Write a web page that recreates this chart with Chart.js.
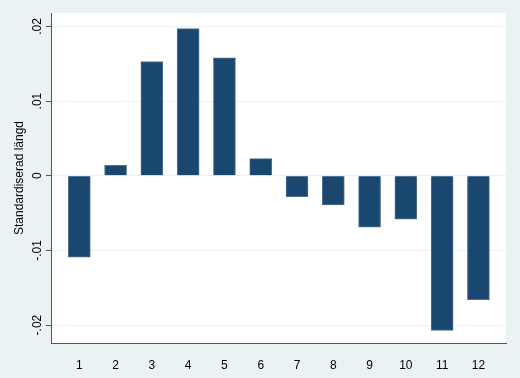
<!DOCTYPE html>
<html>
<head>
<meta charset="utf-8">
<script src="https://cdn.jsdelivr.net/npm/chart.js@4.4.1/dist/chart.umd.min.js"></script>
<style>
  html, body { margin: 0; padding: 0; background: #eaf2f3; }
  canvas { display: block; }
</style>
</head>
<body>
<canvas id="chart" width="520" height="378"></canvas>
<script>
// Bar chart, standardised length per category

const categories = ['1', '2', '3', '4', '5', '6', '7', '8', '9', '10', '11', '12'];
const values = [-0.0109, 0.0014, 0.0153, 0.0197, 0.0158, 0.0023, -0.0028, -0.0039, -0.0069, -0.0058, -0.0207, -0.0166];
const yTicks = [-0.02, -0.01, 0, 0.01, 0.02];
const yTickLabels = ['-.02', '-.01', '0', '.01', '.02'];
const yTitle = 'Standardiserad längd';

const FONT = '"Liberation Sans", Arial, sans-serif';

// Paint the outer background and the white plot region
const backgroundPlugin = {
    id: 'stataBackground',
    beforeDraw(chart) {
        const ctx = chart.ctx;
        const a = chart.chartArea;
        ctx.save();
        ctx.fillStyle = '#eaf2f3';
        ctx.fillRect(0, 0, chart.width, chart.height);
        ctx.fillStyle = '#ffffff';
        ctx.fillRect(a.left, a.top, a.right - a.left, a.bottom - a.top);
        ctx.restore();
    }
};

// Rotated y tick labels and axis title (Chart.js won't rotate y ticks)
const yLabelsPlugin = {
    id: 'yLabels',
    afterDraw(chart) {
        const ctx = chart.ctx;
        const y = chart.scales.y;
        ctx.save();
        ctx.fillStyle = '#000';
        ctx.font = '12px ' + FONT;
        ctx.textAlign = 'center';
        ctx.textBaseline = 'middle';
        yTicks.forEach((v, i) => {
            ctx.save();
            ctx.translate(38, y.getPixelForValue(v));
            ctx.rotate(-Math.PI / 2);
            ctx.fillText(yTickLabels[i], 0, 0);
            ctx.restore();
        });
        const a = chart.chartArea;
        ctx.translate(20, (a.top + a.bottom) / 2);
        ctx.rotate(-Math.PI / 2);
        ctx.fillText(yTitle, 0, 0);
        ctx.restore();
    }
};

new Chart(document.getElementById('chart'), {
    type: 'bar',
    plugins: [backgroundPlugin, yLabelsPlugin],
    data: {
        datasets: [{
            data: values.map((v, i) => ({ x: i + 1, y: v })),
            backgroundColor: '#1a476f',
            borderColor: '#4f7290',
            borderWidth: 1,
            barThickness: 22
        }]
    },
    options: {
        responsive: false,
        animation: false,
        layout: {
            padding: { top: 13, right: 14, left: 0, bottom: 0 }
        },
        plugins: {
            legend: { display: false },
            tooltip: { enabled: false }
        },
        scales: {
            x: {
                type: 'linear',
                offset: false,
                min: 0.22,
                max: 12.76,
                afterBuildTicks: s => { s.ticks = categories.map((c, i) => ({ value: i + 1 })); },
                afterFit: s => { s.height = 35; },
                grid: { display: false, offset: false },
                border: { display: true, color: '#555', width: 1 },
                ticks: {
                    color: '#000',
                    font: { size: 12, family: FONT },
                    padding: 7,
                    maxRotation: 0,
                    autoSkip: false,
                    callback: (v, i) => categories[i]
                }
            },
            y: {
                min: -0.0224,
                max: 0.0218,
                afterBuildTicks: s => { s.ticks = yTicks.map(v => ({ value: v })); },
                afterFit: s => { s.width = 51; },
                grid: {
                    color: '#eaf2f3',
                    tickColor: '#555',
                    tickLength: 5,
                    drawTicks: true
                },
                border: { display: true, color: '#555', width: 1 },
                ticks: { display: false }
            }
        }
    }
});
</script>
</body>
</html>
